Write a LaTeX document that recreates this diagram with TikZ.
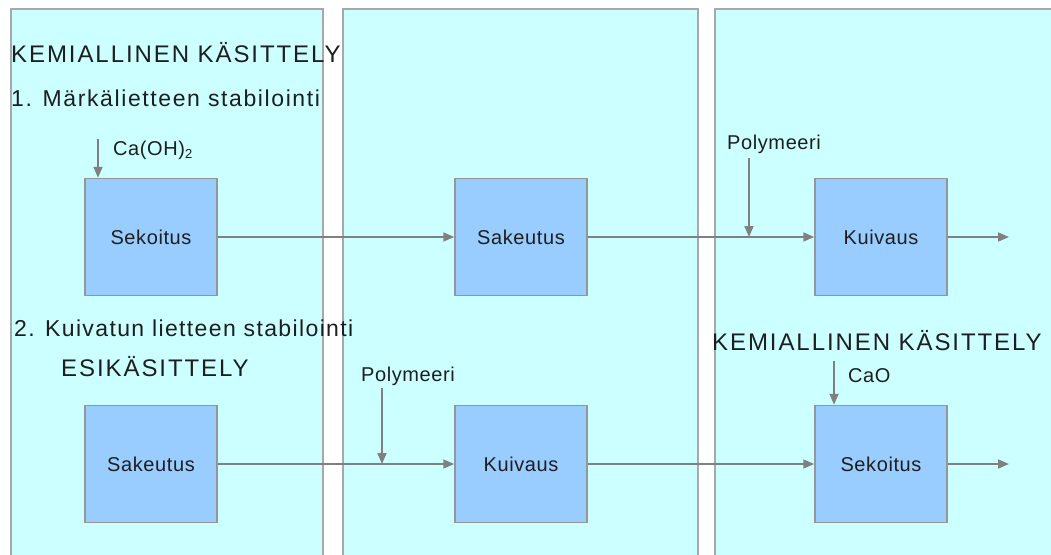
\documentclass[tikz,border=0pt]{standalone}
\usepackage{fontspec}
\setmainfont{Liberation Sans}
\usetikzlibrary{arrows.meta}
\definecolor{panelfill}{HTML}{CCFFFF}
\definecolor{panelline}{HTML}{A8A8A8}
\definecolor{boxfill}{HTML}{99CCFF}
\definecolor{boxline}{HTML}{969696}
\definecolor{arrowgray}{HTML}{808080}
\definecolor{txt}{HTML}{1E1E1E}
\begin{document}
\begin{tikzpicture}[x=1pt, y=-1pt,
  panel/.style={fill=panelfill, draw=panelline, line width=1.5pt},
  procbox/.style={draw=boxline, fill=boxfill, line width=1.5pt,
    minimum width=132pt, minimum height=117pt, inner sep=0pt, text=txt,
    font=\fontsize{20}{24}\selectfont\addfontfeature{LetterSpace=3}},
  flow/.style={draw=arrowgray, line width=1.6pt, -{Triangle[length=11pt,width=9pt]}},
  heading/.style={anchor=base west, inner sep=0pt, text=txt,
    font=\fontsize{24}{28}\selectfont\addfontfeature{LetterSpace=8}},
  sentence/.style={anchor=base west, inner sep=0pt, text=txt,
    font=\fontsize{23}{27}\selectfont\addfontfeature{LetterSpace=7}},
  sentenceb/.style={anchor=base west, inner sep=0pt, text=txt,
    font=\fontsize{23}{27}\selectfont\addfontfeature{LetterSpace=6}},
  inlabel/.style={anchor=base west, inner sep=0pt, text=txt,
    font=\fontsize{20}{24}\selectfont\addfontfeature{LetterSpace=3}}]
\useasboundingbox (0,0) rectangle (1051,554);
\fill[white] (0,0) rectangle (1051,554);
% panels
\draw[panel] (11,9) rectangle (323,575);
\draw[panel] (343,9) rectangle (698,575);
\draw[panel] (715,9) rectangle (1070,575);

% row 1
\node[procbox] (s1) at (151,237) {Sekoitus};
\node[procbox] (k1) at (521,237) {Sakeutus};
\node[procbox] (v1) at (881,237) {Kuivaus};
\coordinate (o1) at (1009,237);
\draw[flow] (s1.east) -- (k1.west);
\draw[flow] (k1.east) -- (v1.west);
\draw[flow] (v1.east) -- (o1);

\node[inlabel] (caoh) at (113,155) {Ca(OH)\raisebox{-3.5pt}{\fontsize{13}{13}\selectfont 2}};
\coordinate (caohs) at (98,139);
\draw[flow] (caohs) -- (caohs |- s1.north);

\node[inlabel] (poly1) at (727,149) {Polymeeri};
\coordinate (poly1s) at (749,158);
\draw[flow] (poly1s) -- (poly1s |- v1.west);

% row 2
\node[procbox] (k2) at (151,464) {Sakeutus};
\node[procbox] (v2) at (521,464) {Kuivaus};
\node[procbox] (s2) at (881,464) {Sekoitus};
\coordinate (o2) at (1009,464);
\draw[flow] (k2.east) -- (v2.west);
\draw[flow] (v2.east) -- (s2.west);
\draw[flow] (s2.east) -- (o2);

\node[inlabel] (poly2) at (361,381) {Polymeeri};
\coordinate (poly2s) at (382,388);
\draw[flow] (poly2s) -- (poly2s |- v2.west);

\node[inlabel] (cao) at (848,382) {CaO};
\coordinate (caos) at (834,361);
\draw[flow] (caos) -- (caos |- s2.north);

% headings
\node[heading] (t1) at (11,62) {KEMIALLINEN KÄSITTELY};
\node[sentence] (t2) at (11,106) {1. Märkälietteen stabilointi};
\node[sentenceb] (t3) at (14,336) {2. Kuivatun lietteen stabilointi};
\node[heading] (t4) at (61,376) {ESIKÄSITTELY};
\node[heading] (t5) at (712,350) {KEMIALLINEN KÄSITTELY};
\end{tikzpicture}
\end{document}
